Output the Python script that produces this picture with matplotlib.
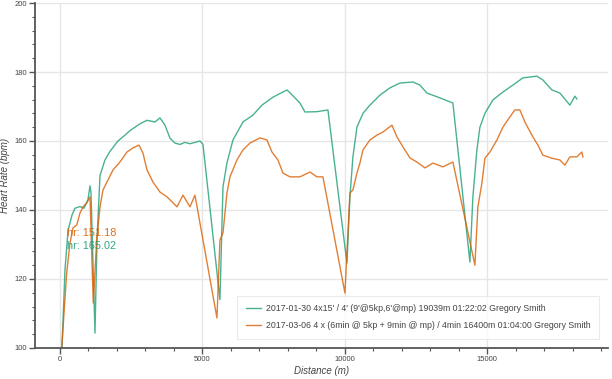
import matplotlib
matplotlib.use("Agg")
import matplotlib.pyplot as plt
from matplotlib.ticker import MultipleLocator

plt.rcParams["font.family"] = ["Liberation Sans", "DejaVu Sans"]

# Data (distance in m, heart rate in bpm)
green_dist = [70, 175, 281, 421, 526, 702, 842, 982, 1053, 1088, 1228, 1298, 1404,
              1579, 1755, 2035, 2281, 2456, 2807, 3053, 3334, 3509, 3684, 3860,
              4035, 4211, 4386, 4562, 4913, 5018, 5614, 5720, 5860, 6071, 6421,
              6772, 7088, 7474, 7965, 8071, 8422, 8597, 9018, 9404, 10071, 10176,
              10281, 10422, 10632, 10878, 11229, 11580, 11931, 12387, 12632, 12878,
              13334, 13790, 14387, 14492, 14632, 14738, 14913, 15194, 15545, 15896,
              16246, 16737, 16948, 17264, 17545, 17896, 18071, 18141]
green_hr = [100, 122.6, 134, 138.5, 140.5, 141, 140.5, 143, 147, 145, 104.3, 131, 150,
            154.5, 157, 160, 161.7, 163, 165, 166, 165.5, 166.7, 164.6, 160.8,
            159.4, 159, 159.6, 159.2, 160, 159, 114, 146.7, 153.6, 160.3, 165.5,
            167.5, 170.4, 172.7, 174.8, 174, 171, 168.4, 168.5, 169, 124.6, 143.8,
            155.4, 164, 168, 170.4, 173.3, 175.4, 176.8, 177.1, 176.2, 173.9,
            172.5, 171, 124.9, 143.8, 157.4, 164, 168, 171.9, 174.2, 176.2,
            178.3, 178.8, 177.7, 174.8, 173.9, 170.4, 173, 172.2]

orange_dist = [60, 235, 351, 456, 586, 702, 807, 937, 1053, 1168, 1288, 1404, 1509,
               1684, 1860, 2105, 2351, 2562, 2772, 2912, 3053, 3263, 3509, 3755,
               4106, 4316, 4562, 4737, 5509, 5614, 5720, 5860, 5965, 6211, 6421,
               6667, 7018, 7264, 7439, 7650, 7825, 8071, 8422, 8773, 9018, 9229,
               10001, 10176, 10281, 10422, 10527, 10632, 10878, 11124, 11334, 11650,
               11825, 12036, 12281, 12527, 12808, 13089, 13439, 13790, 14562, 14667,
               14808, 14913, 15089, 15335, 15545, 15791, 15966, 16141, 16317, 16562,
               16773, 16948, 17264, 17545, 17720, 17896, 18141, 18316, 18352]
orange_hr = [100, 121.7, 130.4, 134.8, 135.6, 139.1, 140.9, 142, 143.8, 113, 131.3,
             140.9, 145.8, 148.7, 151.6, 153.9, 156.8, 158, 158.8, 156.5, 151.6,
             148.1, 145.2, 143.8, 140.9, 144.3, 140.9, 144.3, 108.7, 131.3, 133.3,
             144.9, 149.6, 154.5, 157.4, 159.4, 160.9, 160.3, 156.8, 154.5, 150.7,
             149.6, 149.6, 151, 149.6, 149.6, 115.9, 144.9, 145.8, 150.7, 153.6,
             157.4, 160.3, 161.7, 162.6, 164.6, 161.2, 158.3, 155.1, 153.9, 152.2,
             153.6, 152.5, 153.9, 124, 140.9, 147.8, 155, 156.8, 160.3, 164, 167,
             169, 169, 165.5, 161.7, 158.8, 155.9, 155, 154.5, 153, 155.4, 155.4,
             156.8, 155.4]

labels = ["2017-01-30 4x15' / 4' (9'@5kp,6'@mp) 19039m 01:22:02 Gregory Smith",
          "2017-03-06 4 x (6min @ 5kp + 9min @ mp) / 4min 16400m 01:04:00 Gregory Smith"]
hover_text = ["hr: 151.18", "hr: 165.02"]

green = "#1b9e77"
orange = "#d95f02"

fig = plt.figure(figsize=(6.12, 3.79), dpi=100, facecolor="white")
ax = fig.add_axes([0.0572, 0.082, 0.936, 0.910])

ax.plot(green_dist, green_hr, color=green, alpha=0.8, lw=1.0, label=labels[0])
ax.plot(orange_dist, orange_hr, color=orange, alpha=0.8, lw=1.0, label=labels[1])

ax.set_xlim(-877, 19228)
ax.set_ylim(100, 200)
ax.xaxis.set_major_locator(MultipleLocator(5000))
ax.xaxis.set_minor_locator(MultipleLocator(1000))
ax.yaxis.set_major_locator(MultipleLocator(20))
ax.yaxis.set_minor_locator(MultipleLocator(4))

ax.grid(True, which="major", color="#e6e6e6", lw=1)
ax.set_axisbelow(True)
for s in ["top", "right"]:
    ax.spines[s].set_visible(False)
for s in ["left", "bottom"]:
    ax.spines[s].set_color("#555555")
    ax.spines[s].set_linewidth(1.3)
ax.tick_params(which="major", length=4, width=1, color="#555555", pad=2,
               labelsize=5.5, labelcolor="#444444")
ax.tick_params(which="minor", length=2.5, width=0.8, color="#555555")

ax.set_xlabel("Distance (m)", fontsize=7, style="italic", color="#444444", labelpad=2)
ax.set_ylabel("Heart Rate (bpm)", fontsize=7, style="italic", color="#444444", labelpad=3)

ax.text(246, 133.3, hover_text[0], color=orange, fontsize=7.8, va="center", alpha=0.9)
ax.text(246, 129.6, hover_text[1], color=green, fontsize=7.8, va="center", alpha=0.9)

leg = ax.legend(loc="lower right", fontsize=6.3, frameon=True, fancybox=False,
                handlelength=1.7, handletextpad=0.6, borderpad=1.0, labelspacing=0.9,
                bbox_to_anchor=(0.993, 0.013))
leg.get_frame().set_edgecolor("#e6e6e6")
leg.get_frame().set_linewidth(0.8)
for t in leg.get_texts():
    t.set_color("#444444")

fig.savefig("out.png", dpi=100)
